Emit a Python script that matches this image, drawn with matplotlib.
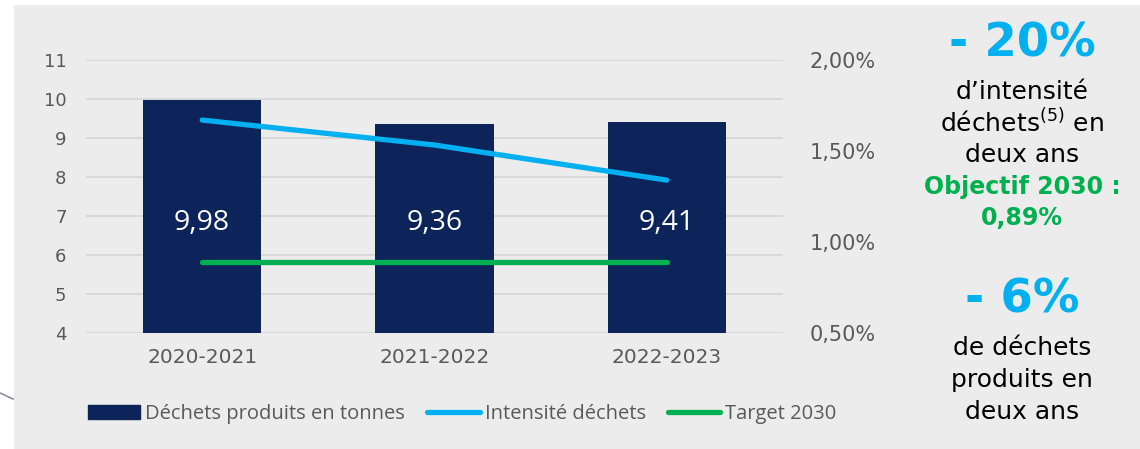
import matplotlib.pyplot as plt
from matplotlib.patches import Rectangle
from matplotlib.lines import Line2D
from matplotlib.ticker import FuncFormatter

# data
years = ['2020-2021', '2021-2022', '2022-2023']
dechets = [9.98, 9.36, 9.41]           # tonnes
intensite = [1.67, 1.533, 1.34]        # %
target_2030 = [0.89, 0.89, 0.89]       # %
left_ticks = [4, 5, 6, 7, 8, 9, 10, 11]
right_ticks = [0.5, 1.0, 1.5, 2.0]

NAVY = '#0c2459'
BLUE = '#00b0f0'
GREEN = '#00b050'
GREY_TXT = '#595959'
BG = '#ececec'
WIDE = ['DejaVu Sans']                 # stand-in for the wide geometric font
plt.rcParams['font.family'] = ['Open Sans', 'DejaVu Sans']

fig = plt.figure(figsize=(11.4, 4.49), dpi=100)
fig.patch.set_facecolor('white')
# grey panel
fig.add_artist(Rectangle((14 / 1140, 0), 1 - 14 / 1140, 1 - 5 / 449,
                         transform=fig.transFigure, facecolor=BG, edgecolor='none', zorder=0))
fig.add_artist(Line2D([0, 13 / 1140], [1 - 393 / 449, 1 - 399 / 449],
                      transform=fig.transFigure, color='#8a8f99', lw=1.2))

ax = fig.add_axes([86 / 1140, 1 - 333 / 449, (783 - 86) / 1140, (333 - 60) / 449])
ax.set_facecolor('none')
x = range(len(years))
ax.bar(x, dechets, width=0.51, color=NAVY, zorder=2)
ax.set_ylim(4, 11)
ax.set_xlim(-0.5, 2.5)
ax.set_yticks(left_ticks)
ax.yaxis.grid(True, color='#d6d6d6', lw=1.3, zorder=0)
ax.set_axisbelow(True)
for s in ax.spines.values():
    s.set_visible(False)
ax.tick_params(length=0)
ax.tick_params(axis='y', labelsize=13, labelcolor=GREY_TXT, pad=14)
ax.set_xticks(list(x))
ax.set_xticklabels(years, fontsize=14.5, color=GREY_TXT, family=WIDE)
for t in ax.get_yticklabels():
    t.set_family(WIDE)
ax.tick_params(axis='x', pad=11)
for i, v in enumerate(dechets):
    ax.text(i, 6.82, f'{v:.2f}'.replace('.', ','), color='white', fontsize=20.5,
            ha='center', va='center', zorder=5)

ax2 = ax.twinx()
ax2.set_ylim(0.5, 2.0)
ax2.set_yticks(right_ticks)
ax2.yaxis.set_major_formatter(FuncFormatter(lambda v, p: f'{v:.2f}%'.replace('.', ',')))
ax2.tick_params(length=0, labelsize=15, labelcolor=GREY_TXT, pad=19)
for t in ax2.get_yticklabels():
    t.set_family(WIDE)
for s in ax2.spines.values():
    s.set_visible(False)
ax2.plot(x, intensite, color=BLUE, lw=3.8, solid_capstyle='round', zorder=4)
ax2.plot(x, target_2030, color=GREEN, lw=3.8, solid_capstyle='round', zorder=4)

# legend
handles = [Rectangle((0, 0), 1, 1, color=NAVY),
           Line2D([], [], color=BLUE, lw=3.8, solid_capstyle='round'),
           Line2D([], [], color=GREEN, lw=3.8, solid_capstyle='round')]
labels = ['Déchets produits en tonnes', 'Intensité déchets', 'Target 2030']
leg = fig.legend(handles, labels, loc='center left', bbox_to_anchor=(88 / 1140, 1 - 414 / 449),
                 ncol=3, frameon=False, fontsize=14.5, handlelength=2.6, handleheight=0.7,
                 handletextpad=0.25, columnspacing=1.1, borderpad=0, borderaxespad=0)
for t in leg.get_texts():
    t.set_color(GREY_TXT)

# right-hand annotations
cx = 1022 / 1140
def ft(y, s, **kw):
    fig.text(cx, 1 - y / 449, s, ha='center', va='center', family=WIDE, **kw)

ft(44, '- 20%', fontsize=33.5, fontweight='bold', color=BLUE)
ft(92, 'd\u2019intensité', fontsize=18, color='black')
ft(123, 'déchets$^{\\mathregular{(5)}}$ en', fontsize=18, color='black')
ft(155, 'deux ans', fontsize=18, color='black')
ft(187, 'Objectif 2030 :', fontsize=17, fontweight='bold', color=GREEN)
ft(218, '0,89%', fontsize=17, fontweight='bold', color=GREEN)
ft(300, '- 6%', fontsize=33.5, fontweight='bold', color=BLUE)
ft(348, 'de déchets', fontsize=18, color='black')
ft(380, 'produits en', fontsize=18, color='black')
ft(412, 'deux ans', fontsize=18, color='black')

fig.savefig('out.png', dpi=100, facecolor=fig.get_facecolor())
